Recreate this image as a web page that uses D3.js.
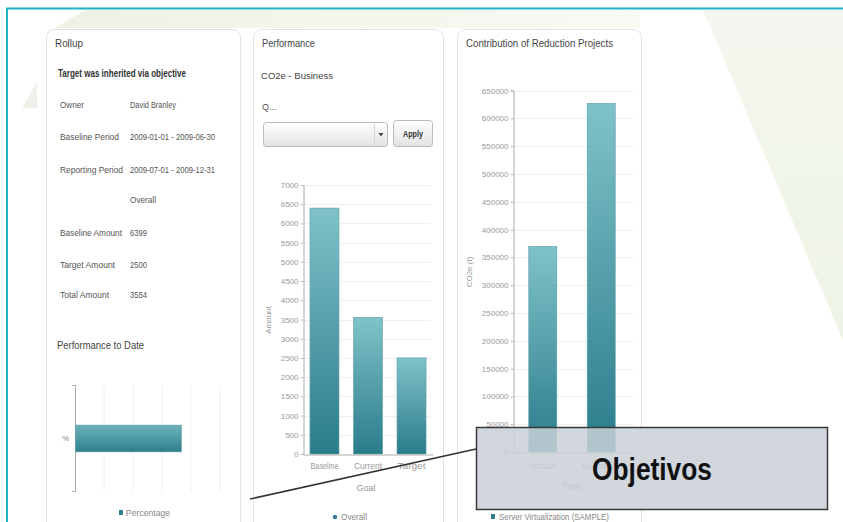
<!DOCTYPE html>
<html>
<head>
<meta charset="utf-8">
<script src="https://cdn.jsdelivr.net/npm/d3@7.9.0/dist/d3.min.js"></script>
<style>
  html, body { margin: 0; padding: 0; background: #fff; }
  svg { display: block; }
  text { font-family: 'Liberation Sans', Arial, sans-serif; }
</style>
</head>
<body>
<svg id="chart" width="843" height="522"></svg>
<script>
// rollup table
const rollupLabels = ['Owner', 'Baseline Period', 'Reporting Period', '', 'Baseline Amount', 'Target Amount', 'Total Amount'];
const rollupValues = ['David Branley', '2009-01-01 - 2009-06-30', '2009-07-01 - 2009-12-31', 'Overall', '6399', '2500', '3554'];

// performance to date (horizontal bar)
const pctCategories = ['%'];
const pctValues = [73];
const pctTicks = [0, 20, 40, 60, 80, 100];

// performance (CO2e - Business)
const perfGoals = ['Baseline', 'Current', 'Target'];
const perfValues = [6399, 3554, 2500];
const perfTicks = d3.range(0, 7001, 500);

// contribution of reduction projects
const contribTypes = ['Actual', 'Estimated'];
const contribValues = [370000, 627000];
const contribTicks = d3.range(0, 650001, 50000);

const svg = d3.select('#chart');
const defs = svg.append('defs');

// squeeze text to the width it has in the screenshot
function fit(sel, w) {
  return sel.attr('textLength', w).attr('lengthAdjust', 'spacingAndGlyphs');
}

let g = defs.append('linearGradient').attr('id', 'barGrad').attr('x1', 0).attr('y1', 0).attr('x2', 0).attr('y2', 1);
g.append('stop').attr('offset', '0%').attr('stop-color', '#80c2c9');
g.append('stop').attr('offset', '100%').attr('stop-color', '#2a7c8b');

let gh = defs.append('linearGradient').attr('id', 'hbarGrad').attr('x1', 0).attr('y1', 0).attr('x2', 0).attr('y2', 1);
gh.append('stop').attr('offset', '0%').attr('stop-color', '#6bb3bc');
gh.append('stop').attr('offset', '100%').attr('stop-color', '#2d7f8d');

let gr = defs.append('linearGradient').attr('id', 'decoGrad').attr('x1', 0).attr('y1', 0).attr('x2', 0).attr('y2', 1);
gr.append('stop').attr('offset', '0%').attr('stop-color', '#f4f7ef');
gr.append('stop').attr('offset', '100%').attr('stop-color', '#eef4e5');

let gt = defs.append('linearGradient').attr('id', 'topGrad').attr('x1', 0).attr('y1', 0).attr('x2', 1).attr('y2', 0);
gt.append('stop').attr('offset', '0%').attr('stop-color', '#edf2e4');
gt.append('stop').attr('offset', '100%').attr('stop-color', '#f8faf4');

let gs = defs.append('linearGradient').attr('id', 'selGrad').attr('x1', 0).attr('y1', 0).attr('x2', 0).attr('y2', 1);
gs.append('stop').attr('offset', '0%').attr('stop-color', '#ffffff');
gs.append('stop').attr('offset', '100%').attr('stop-color', '#e2e2e2');

// background decorations
svg.append('polygon').attr('points', '85,10 640,10 640,28 55,28').attr('fill', 'url(#topGrad)');
svg.append('polygon').attr('points', '703,10 843,10 843,340').attr('fill', 'url(#decoGrad)');
svg.append('polygon').attr('points', '22,108 37,82 37,108').attr('fill', '#eef1e9');

// cyan frame
svg.append('line').attr('x1', 6).attr('x2', 843).attr('y1', 8.5).attr('y2', 8.5).attr('stroke', '#21b4c6').attr('stroke-width', 2);
svg.append('line').attr('x1', 7).attr('x2', 7).attr('y1', 8).attr('y2', 522).attr('stroke', '#21b4c6').attr('stroke-width', 2);

// panels
const panels = [
  { x: 46, w: 194, title: 'Rollup', tw: 28 },
  { x: 253, w: 190, title: 'Performance', tw: 53 },
  { x: 457, w: 184, title: 'Contribution of Reduction Projects', tw: 147 }
];
panels.forEach(p => {
  svg.append('rect').attr('x', p.x + 0.5).attr('y', 29.5).attr('width', p.w).attr('height', 520)
    .attr('rx', 8).attr('fill', '#fff').attr('stroke', '#e3e3e3');
  fit(svg.append('text').attr('x', p.x + 9).attr('y', 47).attr('font-size', 11).attr('fill', '#444').text(p.title), p.tw);
});

// ---- Rollup panel ----
fit(svg.append('text').attr('x', 58).attr('y', 77).attr('font-size', 10).attr('font-weight', 'bold').attr('fill', '#333')
  .text('Target was inherited via objective'), 128);
const rowY = [108, 140, 173, 203, 236, 268, 298];
const labelW = [24, 59, 63, 0, 62, 55, 49];
const valueW = [46, 85, 85, 26, 17, 17, 17];
rollupLabels.forEach((l, i) => {
  if (l) fit(svg.append('text').attr('x', 60).attr('y', rowY[i]).attr('font-size', 9).attr('fill', '#555').text(l), labelW[i]);
  fit(svg.append('text').attr('x', 130).attr('y', rowY[i]).attr('font-size', 9.5).attr('fill', '#555').text(rollupValues[i]), valueW[i]);
});
fit(svg.append('text').attr('x', 57).attr('y', 349).attr('font-size', 11.5).attr('fill', '#444').text('Performance to Date'), 87);

// performance to date chart
const pctX = d3.scaleLinear().domain([0, 100]).range([75, 220]);
const pctY = d3.scaleBand().domain(pctCategories).range([385, 492]).padding(0.6);
svg.append('g').selectAll('line').data(pctTicks.slice(1)).join('line')
  .attr('x1', d => pctX(d)).attr('x2', d => pctX(d)).attr('y1', 385).attr('y2', 492)
  .attr('stroke', '#f0f0f0');
const pctAxis = svg.append('g').attr('transform', 'translate(75,0)')
  .call(d3.axisLeft(pctY).tickSize(0).tickPadding(6));
pctAxis.select('.domain').attr('stroke', '#aaa').attr('d', 'M-3,385.5H0.5V491.5H-3');
pctAxis.selectAll('text').attr('font-size', 8).attr('fill', '#888').style('font-family', null);
svg.append('g').selectAll('rect').data(pctValues).join('rect')
  .attr('x', pctX(0) + 0.5).attr('y', (d, i) => pctY(pctCategories[i]))
  .attr('width', d => pctX(d) - pctX(0)).attr('height', pctY.bandwidth())
  .attr('fill', 'url(#hbarGrad)').attr('stroke', '#5e9ea6').attr('stroke-width', 0.6);
svg.append('rect').attr('x', 119).attr('y', 510).attr('width', 4).attr('height', 5).attr('fill', '#2d7f8d');
fit(svg.append('text').attr('x', 126).attr('y', 516).attr('font-size', 8.5).attr('fill', '#888').text('Percentage'), 44);

// ---- Performance panel ----
fit(svg.append('text').attr('x', 261).attr('y', 79).attr('font-size', 9.5).attr('fill', '#444').text('CO2e - Business'), 72);
svg.append('text').attr('x', 262).attr('y', 110).attr('font-size', 9).attr('fill', '#555').text('Q...');
svg.append('rect').attr('x', 263.5).attr('y', 122.5).attr('width', 124).attr('height', 24).attr('rx', 3)
  .attr('fill', 'url(#selGrad)').attr('stroke', '#b9b9b9');
svg.append('line').attr('x1', 374.5).attr('x2', 374.5).attr('y1', 124).attr('y2', 146).attr('stroke', '#d4d4d4');
svg.append('path').attr('d', 'M378.5,133 L383.5,133 L381,136.5 Z').attr('fill', '#444');
svg.append('rect').attr('x', 393.5).attr('y', 120.5).attr('width', 39).attr('height', 26).attr('rx', 3)
  .attr('fill', 'url(#selGrad)').attr('stroke', '#b9b9b9');
fit(svg.append('text').attr('x', 403).attr('y', 137).attr('font-size', 9)
  .attr('font-weight', 'bold').attr('fill', '#333').text('Apply'), 20);

const perfY = d3.scaleLinear().domain([0, 7000]).range([454, 185]);
const perfX = d3.scaleBand().domain(perfGoals).range([303, 433]).paddingInner(0.333).paddingOuter(0.16);
svg.append('g').selectAll('line').data(perfTicks.slice(1)).join('line')
  .attr('x1', 303).attr('x2', 431).attr('y1', d => Math.round(perfY(d)) + 0.5).attr('y2', d => Math.round(perfY(d)) + 0.5)
  .attr('stroke', '#efefef');
const perfAxisY = svg.append('g').attr('transform', 'translate(303.5,0)')
  .call(d3.axisLeft(perfY).tickValues(perfTicks).tickSize(3).tickPadding(2).tickFormat(d3.format('d')));
perfAxisY.select('.domain').attr('stroke', '#aaa');
perfAxisY.selectAll('.tick line').attr('stroke', '#bbb');
perfAxisY.selectAll('text').attr('font-size', 8).attr('fill', '#999').style('font-family', null);
svg.append('g').selectAll('rect').data(perfValues).join('rect')
  .attr('x', (d, i) => perfX(perfGoals[i])).attr('y', d => perfY(d))
  .attr('width', perfX.bandwidth()).attr('height', d => perfY(0) - perfY(d))
  .attr('fill', 'url(#barGrad)').attr('stroke', '#5e9ea6').attr('stroke-width', 0.6);
const perfAxisX = svg.append('g').attr('transform', 'translate(0,454.5)')
  .call(d3.axisBottom(perfX).tickSize(0).tickPadding(8));
perfAxisX.select('.domain').attr('stroke', '#aaa');
perfAxisX.selectAll('text').attr('font-size', 9).attr('fill', '#999').style('font-family', null)
  .attr('textLength', 28).attr('lengthAdjust', 'spacingAndGlyphs');
svg.append('text').attr('x', 366).attr('y', 491).attr('text-anchor', 'middle').attr('font-size', 9).attr('fill', '#999').text('Goal');
svg.append('text').attr('transform', 'translate(271,320) rotate(-90)').attr('text-anchor', 'middle')
  .attr('font-size', 8).attr('fill', '#999').text('Amount');
svg.append('circle').attr('cx', 335).attr('cy', 517).attr('r', 2.2).attr('fill', '#2d7f8d');
fit(svg.append('text').attr('x', 341).attr('y', 520).attr('font-size', 8.5).attr('fill', '#888').text('Overall'), 26);

// ---- Contribution panel ----
const contribY = d3.scaleLinear().domain([0, 650000]).range([452, 90.6]);
const contribX = d3.scaleBand().domain(contribTypes).range([513, 631]).paddingInner(0.52).paddingOuter(0.27);
svg.append('g').selectAll('line').data(contribTicks.slice(1)).join('line')
  .attr('x1', 513).attr('x2', 634).attr('y1', d => Math.round(contribY(d)) + 0.5).attr('y2', d => Math.round(contribY(d)) + 0.5)
  .attr('stroke', '#efefef');
const contribAxisY = svg.append('g').attr('transform', 'translate(513.5,0)')
  .call(d3.axisLeft(contribY).tickValues(contribTicks).tickSize(3).tickPadding(2).tickFormat(d3.format('d')));
contribAxisY.select('.domain').attr('stroke', '#aaa');
contribAxisY.selectAll('.tick line').attr('stroke', '#bbb');
contribAxisY.selectAll('text').attr('font-size', 8).attr('fill', '#999').style('font-family', null);
svg.append('g').selectAll('rect').data(contribValues).join('rect')
  .attr('x', (d, i) => contribX(contribTypes[i])).attr('y', d => contribY(d))
  .attr('width', contribX.bandwidth()).attr('height', d => contribY(0) - contribY(d))
  .attr('fill', 'url(#barGrad)').attr('stroke', '#5e9ea6').attr('stroke-width', 0.6);
const contribAxisX = svg.append('g').attr('transform', 'translate(0,452.5)')
  .call(d3.axisBottom(contribX).tickSize(0).tickPadding(10));
contribAxisX.select('.domain').attr('stroke', '#aaa');
contribAxisX.selectAll('text').attr('font-size', 9).attr('fill', '#999').style('font-family', null);
svg.append('text').attr('x', 572).attr('y', 489).attr('text-anchor', 'middle').attr('font-size', 9).attr('fill', '#999').text('Type');
svg.append('text').attr('transform', 'translate(472,272) rotate(-90)').attr('text-anchor', 'middle')
  .attr('font-size', 8).attr('fill', '#999').text('CO2e (t)');
svg.append('rect').attr('x', 491).attr('y', 514).attr('width', 4).attr('height', 5).attr('fill', '#2d7f8d');
fit(svg.append('text').attr('x', 499).attr('y', 520).attr('font-size', 8.5).attr('fill', '#888').text('Server Virtualization (SAMPLE)'), 110);

// ---- callout ----
svg.append('line').attr('x1', 250).attr('y1', 499).attr('x2', 476).attr('y2', 449)
  .attr('stroke', '#333').attr('stroke-width', 1.5);
svg.append('rect').attr('x', 476.5).attr('y', 427.5).attr('width', 351).attr('height', 82)
  .attr('fill', '#c9d0d7').attr('fill-opacity', 0.85).attr('stroke', '#3a3a3a').attr('stroke-width', 1.5);
svg.append('text').attr('x', 592).attr('y', 480).attr('font-size', 32).attr('font-weight', 'bold')
  .attr('fill', '#111').attr('textLength', 120).attr('lengthAdjust', 'spacingAndGlyphs').text('Objetivos');
</script>
</body>
</html>
